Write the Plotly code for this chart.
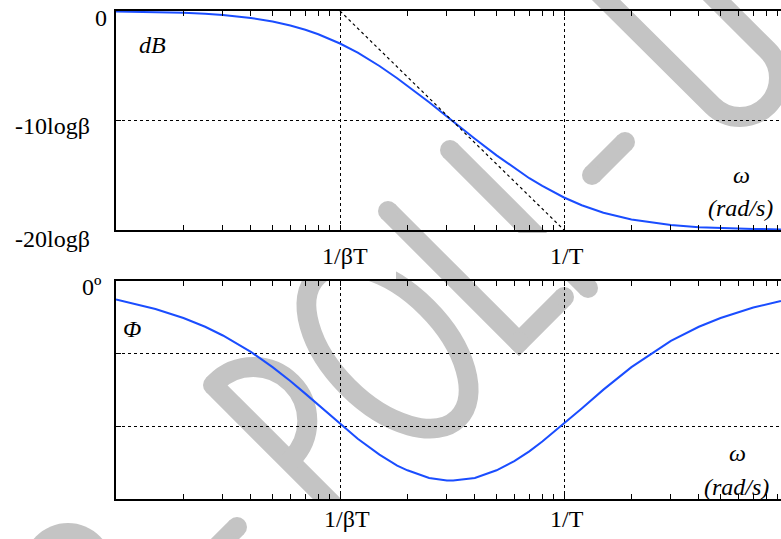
import numpy as np
import plotly.graph_objects as go

# ---------------- data ----------------
omega = [0.1, 0.15, 0.2, 0.25, 0.3, 0.4, 0.5, 0.6, 0.7, 0.8, 1.0, 1.2, 1.5, 1.8, 2.0,
         2.5, 3.0, 3.2, 4.0, 5.0, 6.0, 7.0, 8.0, 10.0, 12.0, 15.0, 20.0, 30.0, 40.0,
         50.0, 70.0, 93.0]
mag_db = [-0.04, -0.10, -0.17, -0.26, -0.37, -0.64, -0.96, -1.32, -1.71, -2.12, -2.97,
          -3.81, -5.02, -6.14, -6.82, -8.34, -9.63, -10.09, -11.66, -13.18, -14.35,
          -15.27, -15.98, -17.03, -17.74, -18.43, -19.04, -19.55, -19.74, -19.83,
          -19.90, -19.95]
phase_deg = [-5.1, -7.7, -10.2, -12.6, -15.0, -19.5, -23.7, -27.5, -31.0, -34.1, -39.3,
             -43.4, -47.8, -50.8, -52.1, -54.2, -54.9, -54.9, -54.2, -52.1, -49.6,
             -46.9, -44.2, -39.3, -35.1, -29.9, -23.7, -16.5, -12.6, -10.2, -7.3, -5.5]
asym_w = [1.0, 10.0]
asym_db = [0.0, -20.0]

mag_ticks = [-20, -10, 0]
mag_ticktext = ["-20logβ", "-10logβ", "0"]
phase_ticks = [-60, -40, -20, 0]
x_ticks = [1.0, 10.0]
x_ticktext = ["1/βT", "1/T"]

# ---------------- geometry ----------------
W, H = 781, 539
ML, MR, MT, MB = 116, 0, 11, 40
PW = W - ML - MR
PH = H - MT - MB
TOP_DOM = [(H - MB - 230) / PH, 1.0]
BOT_DOM = [0.0, (H - MB - 281) / PH]

def fx(x):
    return (x - ML) / PW

def fy(y):
    return (H - MB - y) / PH

def pt(p):
    return f"{fx(p[0]):.5f},{fy(p[1]):.5f}"

BLUE = "#1a4dff"
GRAY = "#c4c4c4"
SW = 20
FONT = "Liberation Serif, Times New Roman, serif"

fig = go.Figure()
fig.add_trace(go.Scatter(x=omega, y=mag_db, mode="lines", line=dict(color=BLUE, width=2),
                         xaxis="x", yaxis="y", showlegend=False, hoverinfo="skip"))
fig.add_trace(go.Scatter(x=asym_w, y=asym_db, mode="lines",
                         line=dict(color="black", width=1.2, dash="dot"),
                         xaxis="x", yaxis="y", showlegend=False, hoverinfo="skip"))
fig.add_trace(go.Scatter(x=omega, y=phase_deg, mode="lines", line=dict(color=BLUE, width=2),
                         xaxis="x2", yaxis="y2", showlegend=False, hoverinfo="skip"))

xr = [-1, -1 + PW / 224.0]
xcommon = dict(type="log", range=xr, domain=[0, 1], showline=True, linewidth=2,
               linecolor="black", mirror="ticks", ticks="inside", ticklen=5, tickwidth=1.2,
               tickcolor="black", dtick=1, showgrid=True, gridcolor="black", griddash="dot",
               gridwidth=1, showticklabels=False, zeroline=False,
               minor=dict(ticks="inside", ticklen=5, tickwidth=1.2, tickcolor="black",
                          dtick="D1", showgrid=False))
ycommon = dict(showline=True, linewidth=2, linecolor="black", mirror=False, ticks="inside",
               ticklen=5, tickwidth=1.2, tickcolor="black", showgrid=True, gridcolor="black",
               griddash="dot", gridwidth=1, showticklabels=False, zeroline=False)

fig.update_layout(
    width=W, height=H, margin=dict(l=ML, r=MR, t=MT, b=MB),
    paper_bgcolor="white", plot_bgcolor="rgba(0,0,0,0)",
    xaxis=dict(anchor="y", **xcommon),
    yaxis=dict(anchor="x", domain=TOP_DOM, range=[-20, 0], tickvals=mag_ticks, **ycommon),
    xaxis2=dict(anchor="y2", **xcommon),
    yaxis2=dict(anchor="x2", domain=BOT_DOM, range=[-60, 0], tickvals=phase_ticks, **ycommon),
)

# ---------------- watermark (decoration) ----------------
shapes = []
S2 = 1 / np.sqrt(2)
D = (S2, S2)      # letter "down" direction
R = (S2, -S2)     # letter "right" direction

def add(p, a, v):
    return (p[0] + a * v[0], p[1] + a * v[1])

def ell_arc(c, a, b, u, v, t0, t1, nseg):
    def p(t):
        return (c[0] + a * np.cos(t) * u[0] + b * np.sin(t) * v[0],
                c[1] + a * np.cos(t) * u[1] + b * np.sin(t) * v[1])
    def dp(t):
        return (-a * np.sin(t) * u[0] + b * np.cos(t) * v[0],
                -a * np.sin(t) * u[1] + b * np.cos(t) * v[1])
    dt = (t1 - t0) / nseg
    k = 4.0 / 3.0 * np.tan(dt / 4.0)
    s = ""
    for i in range(nseg):
        ta, tb = t0 + i * dt, t0 + (i + 1) * dt
        pa, pb = p(ta), p(tb)
        da, db = dp(ta), dp(tb)
        c1 = (pa[0] + k * da[0], pa[1] + k * da[1])
        c2 = (pb[0] - k * db[0], pb[1] - k * db[1])
        s += f" C {pt(c1)} {pt(c2)} {pt(pb)}"
    return p(t0), s

def stroke(path):
    shapes.append(dict(type="path", path=path, xref="paper", yref="paper", layer="below",
                       line=dict(color=GRAY, width=SW), fillcolor="rgba(0,0,0,0)"))

def dot(c, r=SW / 2):
    shapes.append(dict(type="circle", xref="paper", yref="paper", layer="below",
                       x0=fx(c[0] - r), x1=fx(c[0] + r), y0=fy(c[1] + r), y1=fy(c[1] - r),
                       fillcolor=GRAY, line=dict(width=0)))

def seg(a, b, caps=True):
    stroke(f"M {pt(a)} L {pt(b)}")
    if caps:
        dot(a)
        dot(b)

# P
T = (213, 385)
E = add(T, 199, D)
seg(T, E)
C = add(add(T, 54, D), 3, R)
p0, arc = ell_arc(C, 54, 54, (-D[0], -D[1]), R, 0, np.pi, 2)
stroke(f"M {pt(T)} L {pt(p0)}{arc} L {pt(add(T, 108, D))}")
# O
p0, arc = ell_arc((387.5, 347.5), 100, 56, D, R, 0, 2 * np.pi, 8)
stroke(f"M {pt(p0)}{arc} Z")
# L
L0, L1, L2 = (388, 211), (519, 342), (564, 297)
stroke(f"M {pt(L0)} L {pt(L1)} L {pt(L2)}")
dot(L0); dot(L1); dot(L2)
# I
seg((450, 150), (588, 288))
# -
seg((592, 175), (625, 142))
# U
uc = (740, 78)
p0, arc = ell_arc(uc, 39, 39, (1, 0), (0, 1), np.radians(135), np.radians(-45), 2)
stroke(f"M {pt((586, -20))} L {pt(p0)}{arc} L {pt((697, -20))}")
# fragments of next line
dot((68, 568), 45)
seg((237, 527), (200, 564))

# white boxes behind the axis labels (mask the watermark)
for (x0, x1, y0, y1) in [(288, 396, 233, 279), (505, 625, 233, 279), (290, 400, 501, 545)]:
    shapes.append(dict(type="rect", xref="paper", yref="paper", layer="above",
                       x0=fx(x0), x1=fx(x1), y0=fy(y1), y1=fy(y0),
                       fillcolor="white", line=dict(width=0)))
fig.update_layout(shapes=shapes)

# ---------------- labels ----------------
FS = 24
anns = []

def ann(text, x, y, size=FS, xanchor="center"):
    anns.append(dict(text=text, x=fx(x), y=fy(y), xref="paper", yref="paper",
                     showarrow=False, xanchor=xanchor, yanchor="middle",
                     font=dict(family=FONT, size=size, color="black")))

ann(mag_ticktext[2], 109, 18, xanchor="right")
ann(mag_ticktext[1], 92, 126, xanchor="right")
ann(mag_ticktext[0], 92, 239, xanchor="right")
ann("0º", 104, 287, xanchor="right")
for lx, txt in zip(x_ticks, x_ticktext):
    xpix = ML + (np.log10(lx) - xr[0]) * 224.0
    ann(txt, xpix + (5 if "β" in txt else 3), 256)
    ann(txt, xpix + (7 if "β" in txt else 3), 519)
ann("<i>dB</i>", 152, 45)
ann("<i>ω</i>", 741, 175)
ann("<i>(rad/s)</i>", 740, 208)
ann("<i>Φ</i>", 132, 329)
ann("<i>ω</i>", 737, 453)
ann("<i>(rad/s)</i>", 736, 487)
fig.update_layout(annotations=anns)

fig.write_html("out.html", config={"displayModeBar": False},
               post_script="document.body.style.margin='0';document.body.style.overflow='hidden';")
